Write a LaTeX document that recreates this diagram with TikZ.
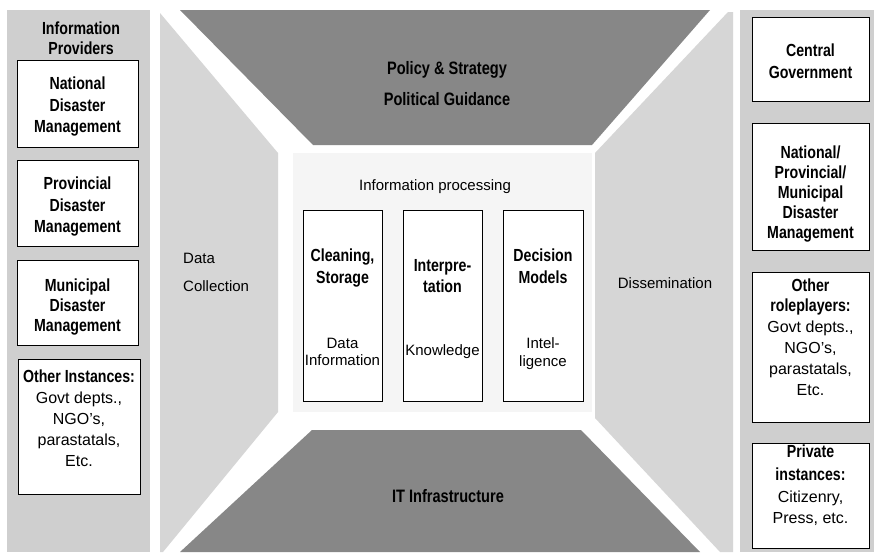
\documentclass[tikz,border=0pt]{standalone}
\usepackage{fontspec}
\setmainfont{Liberation Sans}
\newfontfamily\hdrfont[FakeStretch=0.81]{Liberation Sans}
\begin{document}
\begin{tikzpicture}[x=1pt,y=-1pt,
  colbg/.style={fill=black!19,draw=none},
  sidebg/.style={fill=black!16,draw=none},
  darkbg/.style={fill=black!47,draw=none},
  midbg/.style={fill=black!4,draw=none},
  pbox/.style={draw=black,line width=1.1pt,fill=white,inner sep=0pt,rectangle,anchor=north west},
  hd/.style={font=\hdrfont\bfseries\fontsize{17.5}{21.5}\selectfont,align=center,inner sep=0pt,anchor=base},
  bd/.style={font=\fontsize{16}{21}\selectfont,align=center,inner sep=0pt,anchor=base},
  ct/.style={font=\fontsize{15}{17}\selectfont,align=center,inner sep=0pt,anchor=base}]
\useasboundingbox (0,0) rectangle (874,552);
\fill[white] (0,0) rectangle (874,552);
% backgrounds
\fill[colbg] (7,10) rectangle (150,552);
\fill[colbg] (740,10) rectangle (874,552);
\fill[sidebg] (160,13) -- (278,153) -- (278,412) -- (163,552) -- (160,552) -- cycle;
\fill[sidebg] (733,12) -- (728,12) -- (595,153) -- (595,418) -- (720,552) -- (733,552) -- cycle;
\fill[darkbg] (180,10) -- (710,10) -- (592,145) -- (313,145) -- cycle;
\fill[darkbg] (312,430) -- (581,430) -- (700,552) -- (180,552) -- cycle;
\fill[midbg] (293,153) rectangle (592,412);
% left column
\node[hd,font=\hdrfont\bfseries\fontsize{17.5}{20}\selectfont] (ltitle) at (81,54.5) {Information\\Providers};
\node[pbox,minimum width=121pt,minimum height=87pt] (l1) at (17,60) {};
\node[hd] (l1t) at (77.5,132.5) {National\\Disaster\\Management};
\node[pbox,minimum width=121pt,minimum height=86pt] (l2) at (17,160) {};
\node[hd] (l2t) at (77.5,232.5) {Provincial\\Disaster\\Management};
\node[pbox,minimum width=121pt,minimum height=85pt] (l3) at (17,260) {};
\node[hd,font=\hdrfont\bfseries\fontsize{17.5}{20}\selectfont] (l3t) at (77.5,331.5) {Municipal\\Disaster\\Management};
\node[pbox,minimum width=122pt,minimum height=135pt] (l4) at (18,359) {};
\node[hd] (l4h) at (79,382.5) {Other Instances:};
\node[bd] (l4t) at (79,466) {Govt depts.,\\NGO's,\\parastatals,\\Etc.};
% right column
\node[pbox,minimum width=117pt,minimum height=84pt] (r1) at (752,17) {};
\node[hd,font=\hdrfont\bfseries\fontsize{17.5}{22}\selectfont] (r1t) at (810.5,78.5) {Central\\Government};
\node[pbox,minimum width=117pt,minimum height=127pt] (r2) at (752,123) {};
\node[hd,font=\hdrfont\bfseries\fontsize{17.5}{20}\selectfont] (r2t) at (810.5,238.5) {National/\\Provincial/\\Municipal\\Disaster\\Management};
\node[pbox,minimum width=117pt,minimum height=150pt] (r3) at (752,272) {};
\node[hd,font=\hdrfont\bfseries\fontsize{17.5}{20}\selectfont] (r3h) at (810.5,311.5) {Other\\roleplayers:};
\node[bd] (r3t) at (810.5,395) {Govt depts.,\\NGO's,\\parastatals,\\Etc.};
\node[pbox,minimum width=117pt,minimum height=105pt] (r4) at (752,443) {};
\node[hd,font=\hdrfont\bfseries\fontsize{17.5}{23}\selectfont] (r4h) at (810.5,480.5) {Private\\instances:};
\node[bd] (r4t) at (810.5,523) {Citizenry,\\Press, etc.};
% trapezoid labels
\node[hd,font=\hdrfont\bfseries\fontsize{18}{31}\selectfont] (pol) at (447,105) {Policy \& Strategy\\Political Guidance};
\node[hd,font=\hdrfont\bfseries\fontsize{18}{22}\selectfont] (it) at (448,502) {IT Infrastructure};
\node[ct,anchor=base west] (dc1) at (183,263.5) {Data};
\node[ct,anchor=base west] (dc2) at (183,291.5) {Collection};
\node[ct] (dis) at (665,288) {Dissemination};
% information processing
\node[ct] (ip) at (435,190.5) {Information processing};
\node[pbox,minimum width=79pt,minimum height=191pt] (ba) at (303,210) {};
\node[pbox,minimum width=79pt,minimum height=191pt] (bb) at (403,210) {};
\node[pbox,minimum width=80pt,minimum height=191pt] (bc) at (503,210) {};
\node[hd,font=\hdrfont\bfseries\fontsize{17.5}{22}\selectfont] (bah) at (342.5,283.5) {Cleaning,\\Storage};
\node[ct] (bat) at (342.5,365.5) {Data\\Information};
\node[hd,font=\hdrfont\bfseries\fontsize{17.5}{21}\selectfont] (bbh) at (442.5,292.5) {Interpre-\\tation};
\node[ct] (bbt) at (442.5,355.5) {Knowledge};
\node[hd,font=\hdrfont\bfseries\fontsize{17.5}{22}\selectfont] (bch) at (543,283.5) {Decision\\Models};
\node[ct,font=\fontsize{15}{18}\selectfont] (bct) at (543,366.5) {Intel-\\ligence};
\end{tikzpicture}
\end{document}
